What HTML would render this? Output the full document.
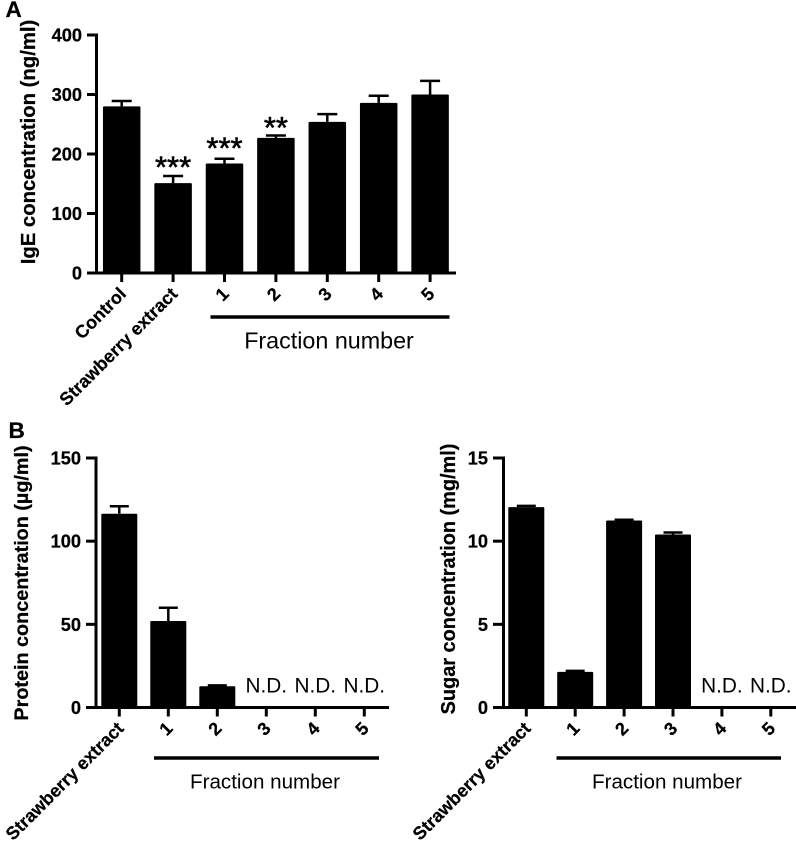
<!DOCTYPE html>
<html lang="en">
<head>
<meta charset="utf-8">
<title>IgE, protein and sugar concentration bar charts</title>
<style>
html,body{margin:0;padding:0;background:#fff;}
svg{display:block;}
text{font-family:"Liberation Sans",Arial,sans-serif;fill:#000;}
.b{font-weight:bold;stroke:#000;stroke-width:.25px;}
.s{stroke:#000;stroke-width:.6px;}
</style>
</head>
<body>
<svg id="fig" xmlns="http://www.w3.org/2000/svg" width="796" height="845" viewBox="0 0 796 845">
  <rect x="0" y="0" width="796" height="845" fill="#fff"></rect>
  <text class="b" x="5.5" y="17" font-size="22.5">A</text>
  <text class="b" x="8.5" y="438" font-size="22.5">B</text>
</svg>
<script>
// Panel A: IgE
const igeCategories = ['Control', 'Strawberry extract', '1', '2', '3', '4', '5'];
const igeValues = [280, 151, 184, 227, 254, 286, 300];
const igeErrorTops = [289, 163, 192, 231, 267, 298, 323];
const igeStars = ['', '***', '***', '**', '', '', ''];
const igeStarLevels = [null, 186, 218, 252, null, null, null];
const igeTicks = [0, 100, 200, 300, 400];

// Panel B left: protein
const proteinCategories = ['Strawberry extract', '1', '2', '3', '4', '5'];
const proteinValues = [116.5, 52, 12.8, null, null, null];
const proteinErrorTops = [121, 60, 13.3, null, null, null];
const proteinTicks = [0, 50, 100, 150];

// Panel B right: sugar
const sugarCategories = ['Strawberry extract', '1', '2', '3', '4', '5'];
const sugarValues = [12.05, 2.14, 11.24, 10.4, null, null];
const sugarErrorTops = [12.12, 2.2, 11.29, 10.52, null, null];
const sugarTicks = [0, 5, 10, 15];

const svg = document.getElementById('fig');
const NS = 'http://www.w3.org/2000/svg';

function make(tag, attrs, txt) {
  const el = document.createElementNS(NS, tag);
  for (const k in attrs) el.setAttribute(k, attrs[k]);
  if (txt !== undefined) el.textContent = txt;
  svg.appendChild(el);
  return el;
}

function line(x1, y1, x2, y2, w) {
  return make('line', {x1: x1, y1: y1, x2: x2, y2: y2, stroke: '#000', 'stroke-width': w});
}

function slug(s) {
  return String(s).toLowerCase().replace(/[^a-z0-9]+/g, '-');
}

function drawPanel(p) {
  const yOf = v => p.bottom - (v / p.max) * (p.bottom - p.top);
  const xOf = i => p.firstX + i * p.step;

  p.categories.forEach((c, i) => {
    const cx = xOf(i);
    const v = p.values[i];
    if (v !== null) {
      const errTop = p.errors[i];
      const stem = line(cx, yOf(v), cx, yOf(errTop), 2.5);
      
      
      const cap = line(cx - p.cap / 2, yOf(errTop), cx + p.cap / 2, yOf(errTop), 2.5);
      
      
      const bar = make('rect', {x: cx - p.barW / 2, y: yOf(v), width: p.barW, height: p.bottom - yOf(v), rx: 1, fill: '#000'});
      
      
    } else {
      const nd = make('text', {x: cx, y: p.bottom - 15, 'font-size': 20.8, 'text-anchor': 'middle'}, 'N.D.');
      
      
    }
    const tick = line(cx, p.bottom, cx, p.bottom + 9, 3);
    
    
    const lx = cx + 5.5, ly = p.bottom + 22;
    const lab = make('text', {class: 'b', 'font-size': 18, 'text-anchor': 'end', transform: 'translate(' + lx + ',' + ly + ') rotate(-45)'}, c);
    
    
    if (p.stars && p.stars[i]) {
      const st = make('text', {class: 's', x: cx, y: yOf(p.starLevels[i]) + 15, 'font-size': 31, 'text-anchor': 'middle'}, p.stars[i]);
      
      
    }
  });

  const yAxis = line(p.axisX, p.top - 1.5, p.axisX, p.bottom + 1.5, 3);
  
  
  const xAxis = line(p.tickLeft, p.bottom, p.axisEnd, p.bottom, 3);
  
  

  p.ticks.forEach(t => {
    const yt = yOf(t);
    const tk = line(p.tickLeft, yt, p.axisX, yt, 3);
    
    
    const tl = make('text', {class: 'b', x: p.tickLabelX, y: yt + 6.5, 'font-size': 18.2, 'text-anchor': 'end'}, t);
    
    
  });

  const title = make('text', {class: 'b', 'font-size': p.titleSize, 'text-anchor': 'middle', transform: 'translate(' + p.titleX + ',' + p.titleY + ') rotate(-90)'}, p.title);
  
  

  const br = line(p.brX1, p.brY, p.brX2, p.brY, 3.4);
  
  
  const ft = make('text', {x: p.fracX, y: p.fracY, 'font-size': p.fracSize, 'text-anchor': 'middle'}, 'Fraction number');
  
  
}

drawPanel({id: 'ige', categories: igeCategories, values: igeValues, errors: igeErrorTops, stars: igeStars, starLevels: igeStarLevels, ticks: igeTicks,
  max: 400, top: 35, bottom: 273, firstX: 121.7, step: 51.4, barW: 37.5, cap: 20,
  axisX: 96.5, tickLeft: 87, axisEnd: 456, tickLabelX: 82,
  title: 'IgE concentration (ng/ml)', titleSize: 20.3, titleX: 35, titleY: 142,
  brX1: 210.5, brX2: 449.5, brY: 317, fracX: 329, fracY: 348.5, fracSize: 23.3});

drawPanel({id: 'protein', categories: proteinCategories, values: proteinValues, errors: proteinErrorTops, ticks: proteinTicks,
  max: 150, top: 458, bottom: 707.5, firstX: 119.3, step: 49, barW: 36, cap: 19,
  axisX: 96, tickLeft: 86, axisEnd: 389, tickLabelX: 81,
  title: 'Protein concentration (\u00b5g/ml)', titleSize: 19.8, titleX: 28, titleY: 583,
  brX1: 154, brX2: 379, brY: 758, fracX: 265, fracY: 788.5, fracSize: 20.6});

drawPanel({id: 'sugar', categories: sugarCategories, values: sugarValues, errors: sugarErrorTops, ticks: sugarTicks,
  max: 15, top: 458, bottom: 707.5, firstX: 526.3, step: 48.9, barW: 36, cap: 19,
  axisX: 503.5, tickLeft: 493, axisEnd: 796, tickLabelX: 488,
  title: 'Sugar concentration (mg/ml)', titleSize: 19.9, titleX: 455, titleY: 579,
  brX1: 556.5, brX2: 781, brY: 758, fracX: 667, fracY: 788.5, fracSize: 20.6});
</script>
</body>
</html>
